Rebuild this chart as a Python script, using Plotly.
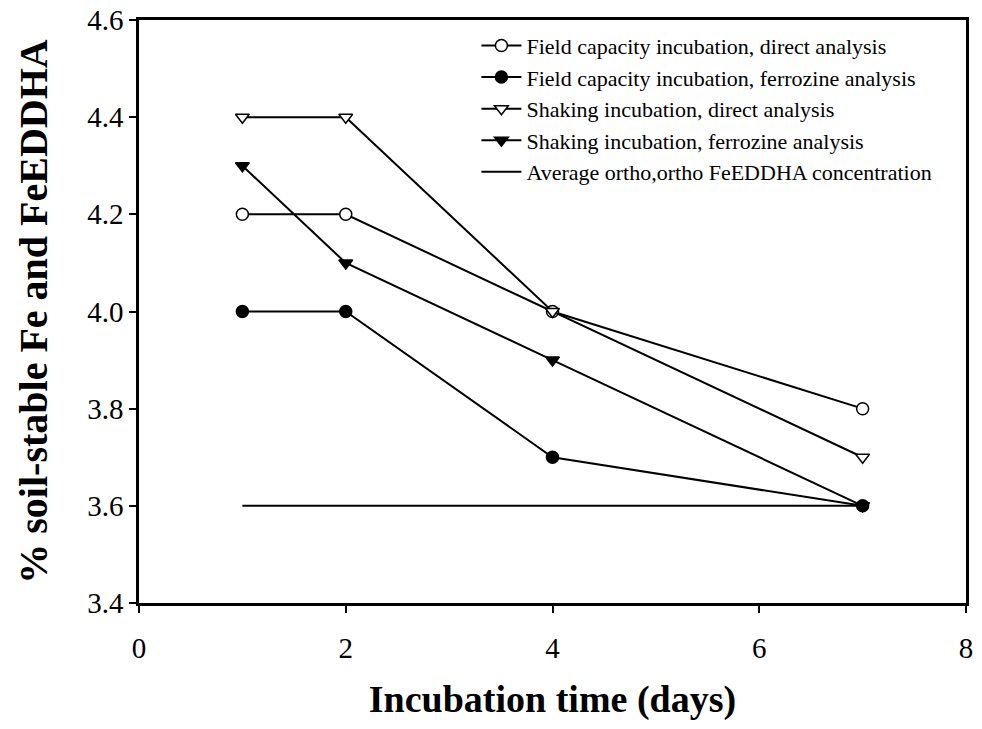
import plotly.graph_objects as go

days = [1, 2, 4, 7]
fc_direct = [4.2, 4.2, 4.0, 3.8]
fc_ferrozine = [4.0, 4.0, 3.7, 3.6]
sh_direct = [4.4, 4.4, 4.0, 3.7]
sh_ferrozine = [4.3, 4.1, 3.9, 3.6]
avg_days = [1, 7]
avg_conc = [3.6, 3.6]

names = [
    "Field capacity incubation, direct analysis",
    "Field capacity incubation, ferrozine analysis",
    "Shaking incubation, direct analysis",
    "Shaking incubation, ferrozine analysis",
    "Average ortho,ortho FeEDDHA concentration",
]

SERIF = "Liberation Serif, Times New Roman, serif"

fig = go.Figure()
line = dict(color="black", width=2)
specs = [
    (fc_direct, "circle", "white", names[0]),
    (fc_ferrozine, "circle", "black", names[1]),
    (sh_direct, "triangle-down", "white", names[2]),
    (sh_ferrozine, "triangle-down", "black", names[3]),
]
for vals, sym, fill, nm in specs:
    fig.add_trace(go.Scatter(
        x=days, y=vals, mode="lines+markers", name=nm,
        line=line,
        marker=dict(symbol=sym, size=12, color=fill,
                    line=dict(color="black", width=1.5)),
    ))

fig.add_trace(go.Scatter(x=avg_days, y=avg_conc, mode="lines", name=names[4],
                         line=line))

fig.update_layout(
    width=982, height=729,
    margin=dict(l=139, r=16, t=20, b=126),
    paper_bgcolor="white", plot_bgcolor="white",
    font=dict(family=SERIF, color="black"),
    showlegend=True,
    legend=dict(x=0.408, y=0.992, xanchor="left", yanchor="top",
                font=dict(size=22, family=SERIF),
                bgcolor="rgba(0,0,0,0)", itemwidth=40),
    xaxis=dict(range=[0, 8], tickvals=[0, 2, 4, 6, 8], showgrid=False, zeroline=False,
               showline=True, linecolor="black", linewidth=2.5, mirror=True,
               ticks="outside", ticklen=7, tickwidth=2, tickcolor="black",
               ticklabelstandoff=10, automargin=False,
               tickfont=dict(size=29, family=SERIF),
               title=dict(text="<b>Incubation time (days)</b>", standoff=23,
                          font=dict(size=38, family=SERIF))),
    yaxis=dict(range=[3.4, 4.6], tickvals=[3.4, 3.6, 3.8, 4.0, 4.2, 4.4, 4.6],
               tickformat=".1f", showgrid=False, zeroline=False,
               showline=True, linecolor="black", linewidth=2.5, mirror=True,
               ticks="outside", ticklen=7, tickwidth=2, tickcolor="black",
               automargin=False,
               tickfont=dict(size=29, family=SERIF),
               title=dict(text="<b>% soil-stable Fe and FeEDDHA</b>", standoff=28,
                          font=dict(size=40, family=SERIF))),
)

fig.write_html("out.html")
